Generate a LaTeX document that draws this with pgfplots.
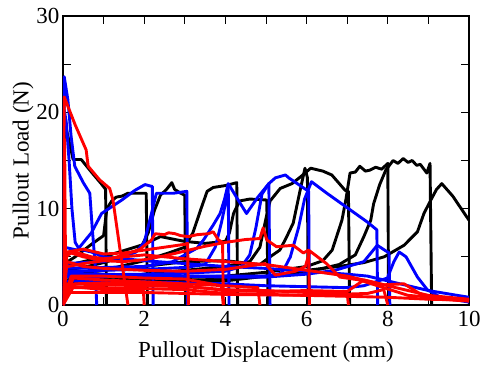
\documentclass[border=0pt]{standalone}
\usepackage{pgfplots}
\pgfplotsset{compat=1.18}
\usepackage{fontspec}
\setmainfont{Liberation Serif}
\begin{document}
\begin{tikzpicture}
\begin{axis}[
  scale only axis, width=406pt, height=289pt,
  xmin=0, xmax=10, ymin=0, ymax=30,
  xtick={0,2,4,6,8,10}, ytick={0,10,20,30},
  minor x tick num=1, minor y tick num=1,
  tick align=inside,
  major tick length=8pt, minor tick length=8pt,
  every tick/.style={black, line width=1pt},
  axis line style={line width=1.2pt},
  /pgf/number format/assume math mode=true,
  tick label style={font=\fontsize{23}{27}\selectfont},
  xticklabel style={yshift=-3pt},
  label style={font=\fontsize{23}{27}\selectfont},
  xlabel={Pullout Displacement (mm)},
  ylabel={Pullout Load (N)},
  xlabel style={yshift=-8pt},
  ylabel style={yshift=-4pt},
  clip=true,
  every axis plot/.append style={line width=2.9pt, line join=round},
]
% ---------- black ----------
\addplot[black] coordinates {(0,0) (0.03,17) (0.08,18.3) (0.25,15.1) (0.45,15.1) (0.7,13.8) (0.94,12.6) (1.05,12) (1.07,0)};
\addplot[black] coordinates {(0,4.2) (0.3,5) (0.7,6.3) (1.0,7.2) (1.08,10) (1.2,10.8) (1.31,11.2) (1.45,11.3) (1.6,11.6) (1.77,11.6) (2.05,11.6) (2.08,0)};
\addplot[black] coordinates {(0,3.6) (0.5,3.9) (1.0,4.4) (1.5,5.0) (1.9,5.8) (2.1,7.5) (2.25,9.8) (2.4,11.4) (2.55,12.0) (2.68,12.7) (2.75,12.0) (2.9,11.6) (3.0,11.4) (3.02,0)};
\addplot[black] coordinates {(0,3.0) (1.0,3.6) (2.0,4.6) (2.6,5.4) (3.0,6.0) (3.2,7.5) (3.4,10) (3.55,11.8) (3.7,12.2) (4.0,12.4) (4.28,12.7) (4.3,0)};
\addplot[black] coordinates {(0,4.0) (1,5.0) (2,6.3) (2.4,7.1) (3,6.6) (3.5,6.4) (4.0,6.6) (4.1,7.5) (4.2,9.5) (4.35,10.8) (4.6,11) (5.02,10.9) (5.05,0)};
\addplot[black] coordinates {(0,3.3) (1,3.6) (2,4.0) (3,4.5) (4,4.6) (4.85,4.2) (5.1,5) (5.34,5.7) (5.5,7) (5.67,8.5) (5.84,11.9) (5.96,14.2) (6.02,13.2) (6.04,0)};
\addplot[black] coordinates {(0,2.6) (1,2.8) (2,3.2) (3,3.6) (4,4.0) (4.6,4.5) (4.85,6) (5.0,9) (5.1,10.8) (5.35,12.1) (5.64,12.6) (5.85,13.3) (6.1,14.2) (6.4,13.9) (6.62,13.5) (6.95,11.9) (7.03,11.8) (7.06,0)};
\addplot[black] coordinates {(0,2.5) (2,2.7) (4,3.0) (5,3.4) (6,4.0) (6.4,4.6) (6.63,5.7) (6.87,8.8) (6.97,11) (7.07,13.7) (7.2,13.8) (7.31,14.4) (7.45,13.9) (7.56,14.0) (7.7,14.3) (7.85,14.1) (8.0,14.7) (8.02,0)};
\addplot[black] coordinates {(0,2.3) (2,2.4) (4,2.7) (5,3.0) (6,3.4) (6.8,4.2) (7.2,5.2) (7.41,7.1) (7.58,8.8) (7.65,10.5) (7.8,12.5) (7.95,14.0) (8.13,15.0) (8.25,14.7) (8.38,15.2) (8.5,14.8) (8.6,15.0) (8.71,14.5) (8.8,14.6) (8.96,13.7) (9.04,14.7) (9.08,0)};
\addplot[black] coordinates {(0,2.2) (2,2.3) (4,2.5) (5,3.0) (6,3.6) (6.8,4.0) (7.41,4.4) (7.91,5.0) (8.4,6.2) (8.73,7.6) (8.89,9.5) (9.06,10.9) (9.2,12.0) (9.33,12.6) (9.6,11.3) (10,8.8)};
% ---------- blue ----------
\addplot[blue] coordinates {(0,0) (0.03,23.7) (0.12,21.3) (0.2,17.5) (0.29,14.4) (0.5,12.7) (0.66,11.6) (0.72,8) (0.79,4.3) (0.83,0)};
\addplot[blue] coordinates {(0,0) (0.02,20.5) (0.08,19) (0.15,15) (0.22,10) (0.3,6.5) (0.4,5.8) (0.7,5.5) (1.0,5.0) (1.5,4.8) (2,4.6) (3,4.3) (4,4.0) (5,3.8) (6,3.5) (7,3.2) (7.5,3.0) (8,2.5) (9,1.5) (10,0.8)};
\addplot[blue] coordinates {(0.02,0) (0.03,6.0) (0.35,5.7) (0.7,7.5) (0.95,9.5) (1.2,10.2) (1.45,10.9) (1.77,11.9) (2.02,12.5) (2.2,12.3) (2.22,0)};
\addplot[blue] coordinates {(0,4.3) (0.5,4.4) (1.0,4.5) (1.45,5.0) (1.8,5.5) (2.0,6.5) (2.15,9) (2.3,11.6) (2.72,11.6) (3.05,11.8) (3.07,0)};
\addplot[blue] coordinates {(0,3.8) (1,3.9) (2,4.0) (2.7,4.5) (3.0,5.2) (3.3,5.9) (3.46,6.75) (3.7,8.3) (3.87,9.5) (3.98,11) (4.07,12.6) (4.3,11.0) (4.52,9.5) (4.8,11.2) (5.07,12.6) (5.1,0)};
\addplot[blue] coordinates {(0,3.5) (1,3.6) (2,3.7) (3,3.9) (3.5,4.2) (3.75,6) (3.9,8.5) (4.0,10.5) (4.07,12.4) (4.09,0)};
\addplot[blue] coordinates {(0,3.1) (2,3.2) (3,3.3) (4,3.5) (4.4,4.0) (4.6,5.2) (4.75,8) (4.9,11.5) (5.07,12.6) (5.23,13.2) (5.48,13.5) (5.56,13.2) (6.05,11.8) (6.07,0)};
\addplot[blue] coordinates {(0,2.9) (2,3.0) (4,3.0) (5,3.0) (5.39,3.3) (5.6,5) (5.8,8) (5.95,11) (6.12,12.8) (6.5,11.6) (7.0,10.1) (7.5,8.6) (7.73,7.8) (7.75,0)};
\addplot[blue] coordinates {(0,2.5) (2,2.4) (4,2.2) (5,2.0) (6,1.9) (7,1.8) (7.41,2.0) (7.99,2.8) (8.15,4.5) (8.28,5.5) (8.45,5.0) (8.73,2.9) (8.97,1.6) (9.3,0.8) (10,0.3)};
\addplot[blue] coordinates {(0,3.3) (2,3.1) (4,2.9) (5,2.9) (6,3.2) (6.7,3.6) (7.41,4.5) (7.74,6.2) (8.03,5.4) (8.05,0)};
% ---------- red ----------
\addplot[red] coordinates {(0,0) (0.03,21.6) (0.3,18.7) (0.57,16.1) (0.62,14.4) (0.9,13) (1.15,12.1) (1.23,10.9) (1.6,0)};
\addplot[red] coordinates {(0,0) (0.04,17.2) (0.06,5.3) (0.3,5.5) (0.7,5.0) (1.0,4.8) (1.5,5.0) (2.0,5.2) (2.5,5.0) (3,4.8) (4,4.5) (5,4.2) (6,3.6) (7,3.0) (8,2.0) (9,1.0) (10,0.6)};
\addplot[red] coordinates {(0,3.9) (0.5,4.3) (1.0,4.6) (1.5,5.2) (1.9,5.8) (2.18,6.75) (2.27,7.4) (2.5,7.3) (2.6,7.5) (2.76,7.4) (2.9,7.2) (3.09,7.1) (3.3,7.3) (3.58,7.4) (3.7,7.6) (3.83,6.75) (3.93,6.5) (3.95,0)};
\addplot[red] coordinates {(0,4.8) (0.2,5.4) (0.5,5.0) (1.0,4.6) (1.5,4.5) (2.0,4.7) (2.5,5.1) (3.0,5.6) (3.5,6.1) (4.0,6.5) (4.5,6.8) (4.85,6.9) (4.93,8.0) (5.02,6.75) (5.26,6.05) (5.67,6.2) (5.92,5.4) (6.05,5.7) (6.07,0)};
\addplot[red] coordinates {(0,0) (0.1,4.5) (0.5,4.0) (1,3.8) (2,3.6) (3,3.5) (4,3.7) (4.98,4.3) (5.23,3.1) (5.72,3.5) (5.97,4.0) (6.08,5.6) (6.49,4.3) (6.82,2.9) (7.3,2.6) (7.97,1.7) (8.5,1.0) (10,0.5)};
\addplot[red] coordinates {(0,0) (0.1,5.5) (0.5,5.8) (1.0,5.3) (1.5,5.4) (2.0,5.7) (2.5,6.0) (3.0,6.3) (3.07,6.4) (3.09,0)};
\addplot[red] coordinates {(0,0) (0.2,3.0) (1,3.0) (2,2.8) (3,2.7) (3.9,2.0) (3.95,0)};
\addplot[red] coordinates {(0,0) (0.25,2.8) (1,2.6) (2,2.4) (3,2.2) (4,2.0) (4.8,1.8) (4.85,0)};
\addplot[red] coordinates {(0,2.2) (1,2.1) (2,2.0) (3,1.9) (4,1.6) (5,1.5) (6,1.3) (7,1.2) (7.03,0)};
\addplot[red] coordinates {(0,1.8) (1,1.8) (2,1.7) (3,1.6) (4,1.2) (5,1.1) (6,1.0) (7,0.9) (8,0.8) (9,0.6) (10,0.5)};
\addplot[red] coordinates {(0,0) (0.3,2.2) (1,2.3) (2,2.2) (3,2.0) (4,1.5) (5,1.4) (6,1.5) (7,1.4) (7.41,2.6) (7.91,2.1) (8.4,2.2) (8.97,0.7) (10,0.4)};
\addplot[red] coordinates {(0,1.3) (2,1.3) (4,1.1) (6,1.0) (7.5,1.2) (7.9,1.6) (8.0,0)};
\addplot[red] coordinates {(0,0) (0.1,2) (0.5,1.8) (1.0,1.6) (1.5,1.5) (1.98,1.5) (2.0,0)};
\end{axis}
\pgfresetboundingbox
\path[use as bounding box] (current axis.south west) ++(-63pt,-60pt) rectangle ++(481pt,365pt);
\end{tikzpicture}
\end{document}
